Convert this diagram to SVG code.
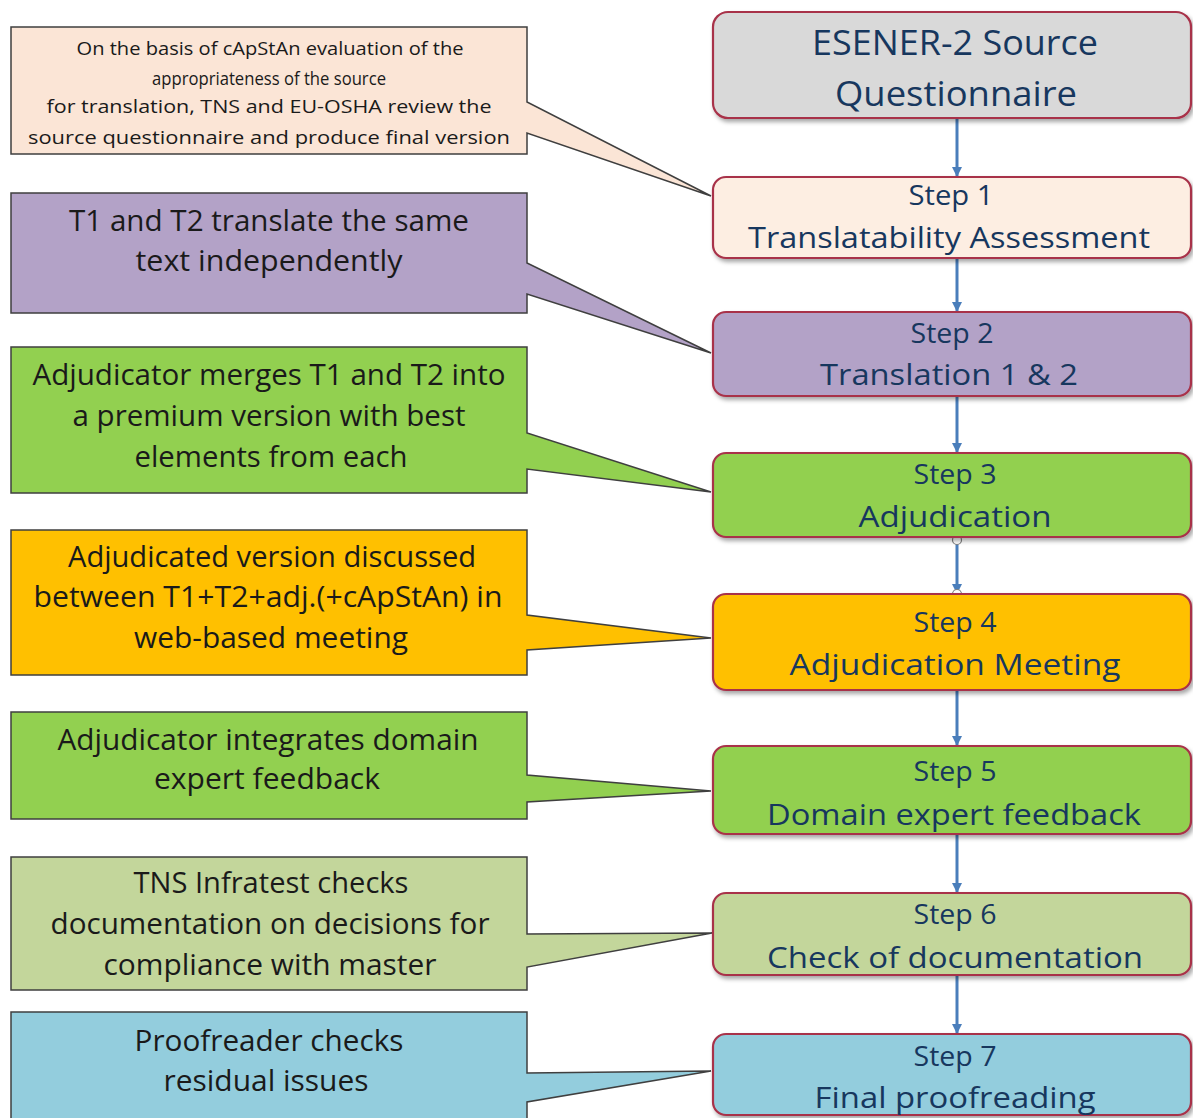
<svg xmlns="http://www.w3.org/2000/svg" width="1193" height="1118" viewBox="0 0 1193 1118">
<style>
.co{stroke:#3f3f3f;stroke-width:1.5}
.ct{font-family:"Open Sans","Liberation Sans",sans-serif;fill:#1a1a1a;text-anchor:middle}
.st{stroke:#a8334a;stroke-width:2.2}
.sx{font-family:"Open Sans","Liberation Sans",sans-serif;fill:#17375e;text-anchor:middle}
.cn{stroke:#4a7ebb;stroke-width:3;fill:none}
.dot{fill:#ffffff;stroke:#7f7f7f;stroke-width:1.2}
</style>
<defs>
<marker id="ah" viewBox="0 0 10 10" refX="9" refY="5" markerWidth="3.4" markerHeight="3.4" orient="auto" markerUnits="strokeWidth">
<path d="M0,0 L10,5 L0,10 z" fill="#4a7ebb"/>
</marker>
<filter id="sh" x="-5%" y="-10%" width="115%" height="130%">
<feDropShadow dx="2" dy="3" stdDeviation="2" flood-color="#000" flood-opacity="0.35"/>
</filter>
</defs>
<rect width="1193" height="1118" fill="#ffffff"/>

<g id="callout1">
<path class="co" fill="#fbe5d6" d="M11,27 H527 V102 L711,196 L527,133 V154 H11 Z"/>
<text class="ct" font-size="19" x="270" y="55" textLength="387" lengthAdjust="spacingAndGlyphs">On the basis of cApStAn evaluation of the</text>
<text class="ct" font-size="19" x="269" y="85" textLength="234" lengthAdjust="spacingAndGlyphs">appropriateness of the source</text>
<text class="ct" font-size="19" x="269" y="113" textLength="445" lengthAdjust="spacingAndGlyphs">for translation, TNS and EU-OSHA review the</text>
<text class="ct" font-size="19" x="269" y="144" textLength="482" lengthAdjust="spacingAndGlyphs">source questionnaire and produce final version</text>
</g>

<g id="callout2">
<path class="co" fill="#b3a2c7" d="M11,193 H527 V263 L711,353 L527,294 V313 H11 Z"/>
<text class="ct" font-size="29" x="269" y="231" textLength="400" lengthAdjust="spacingAndGlyphs">T1 and T2 translate the same</text>
<text class="ct" font-size="29" x="269" y="271" textLength="267" lengthAdjust="spacingAndGlyphs">text independently</text>
</g>

<g id="callout3">
<path class="co" fill="#92d050" d="M11,347 H527 V433 L711,492 L527,469 V493 H11 Z"/>
<text class="ct" font-size="29" x="269" y="385" textLength="473" lengthAdjust="spacingAndGlyphs">Adjudicator merges T1 and T2 into</text>
<text class="ct" font-size="29" x="269" y="426" textLength="393" lengthAdjust="spacingAndGlyphs">a premium version with best</text>
<text class="ct" font-size="29" x="271" y="467" textLength="273" lengthAdjust="spacingAndGlyphs">elements from each</text>
</g>

<g id="callout4">
<path class="co" fill="#ffc000" d="M11,530 H527 V615 L711,638 L527,650 V675 H11 Z"/>
<text class="ct" font-size="29" x="272" y="567" textLength="408" lengthAdjust="spacingAndGlyphs">Adjudicated version discussed</text>
<text class="ct" font-size="29" x="268" y="607" textLength="469" lengthAdjust="spacingAndGlyphs">between T1+T2+adj.(+cApStAn) in</text>
<text class="ct" font-size="29" x="271" y="648" textLength="274" lengthAdjust="spacingAndGlyphs">web-based meeting</text>
</g>

<g id="callout5">
<path class="co" fill="#92d050" d="M11,712 H527 V775 L711,791 L527,802 V819 H11 Z"/>
<text class="ct" font-size="29" x="268" y="750" textLength="421" lengthAdjust="spacingAndGlyphs">Adjudicator integrates domain</text>
<text class="ct" font-size="29" x="267" y="789" textLength="226" lengthAdjust="spacingAndGlyphs">expert feedback</text>
</g>

<g id="callout6">
<path class="co" fill="#c3d69b" d="M11,857 H527 V934 L712,933 L527,967 V990 H11 Z"/>
<text class="ct" font-size="29" x="271" y="893" textLength="275" lengthAdjust="spacingAndGlyphs">TNS Infratest checks</text>
<text class="ct" font-size="29" x="270" y="934" textLength="439" lengthAdjust="spacingAndGlyphs">documentation on decisions for</text>
<text class="ct" font-size="29" x="270" y="975" textLength="333" lengthAdjust="spacingAndGlyphs">compliance with master</text>
</g>

<g id="callout7">
<path class="co" fill="#93cddd" d="M11,1012 H527 V1073 L711,1071 L527,1102 V1122 H11 Z"/>
<text class="ct" font-size="29" x="269" y="1051" textLength="269" lengthAdjust="spacingAndGlyphs">Proofreader checks</text>
<text class="ct" font-size="29" x="266" y="1091" textLength="205" lengthAdjust="spacingAndGlyphs">residual issues</text>
</g>

<g id="connectors">
<line class="cn" x1="957" y1="119" x2="957" y2="176" marker-end="url(#ah)"/>
<line class="cn" x1="957" y1="258" x2="957" y2="311" marker-end="url(#ah)"/>
<line class="cn" x1="957" y1="397" x2="957" y2="452" marker-end="url(#ah)"/>
<line class="cn" x1="957" y1="540" x2="957" y2="593" marker-end="url(#ah)"/>
<circle class="dot" cx="957" cy="540" r="4.5"/>
<circle class="dot" cx="957" cy="594" r="4.5"/>
<line class="cn" x1="957" y1="691" x2="957" y2="745" marker-end="url(#ah)"/>
<line class="cn" x1="957" y1="835" x2="957" y2="892" marker-end="url(#ah)"/>
<line class="cn" x1="957" y1="976" x2="957" y2="1033" marker-end="url(#ah)"/>
</g>

<g id="source">
<rect class="st" filter="url(#sh)" x="713" y="12" width="478" height="106" rx="15" fill="#d9d9d9"/>
<text class="sx" font-size="35" x="955" y="55" textLength="286" lengthAdjust="spacingAndGlyphs">ESENER-2 Source</text>
<text class="sx" font-size="35" x="956" y="106" textLength="242" lengthAdjust="spacingAndGlyphs">Questionnaire</text>
</g>

<g id="step1">
<rect class="st" filter="url(#sh)" x="713" y="177" width="478" height="81" rx="13" fill="#fdeee2"/>
<text class="sx" font-size="27" x="951" y="205" textLength="85" lengthAdjust="spacingAndGlyphs">Step 1</text>
<text class="sx" font-size="29" x="949" y="248" textLength="402" lengthAdjust="spacingAndGlyphs">Translatability Assessment</text>
</g>

<g id="step2">
<rect class="st" filter="url(#sh)" x="713" y="312" width="478" height="84" rx="13" fill="#b3a2c7"/>
<text class="sx" font-size="27" x="952" y="343" textLength="83" lengthAdjust="spacingAndGlyphs">Step 2</text>
<text class="sx" font-size="29" x="949" y="385" textLength="258" lengthAdjust="spacingAndGlyphs">Translation 1 &amp; 2</text>
</g>

<g id="step3">
<rect class="st" filter="url(#sh)" x="713" y="453" width="478" height="84" rx="13" fill="#92d050"/>
<text class="sx" font-size="27" x="955" y="484" textLength="83" lengthAdjust="spacingAndGlyphs">Step 3</text>
<text class="sx" font-size="29" x="955" y="527" textLength="193" lengthAdjust="spacingAndGlyphs">Adjudication</text>
</g>

<g id="step4">
<rect class="st" filter="url(#sh)" x="713" y="594" width="478" height="96" rx="13" fill="#ffc000"/>
<text class="sx" font-size="27" x="955" y="632" textLength="83" lengthAdjust="spacingAndGlyphs">Step 4</text>
<text class="sx" font-size="29" x="955" y="675" textLength="331" lengthAdjust="spacingAndGlyphs">Adjudication Meeting</text>
</g>

<g id="step5">
<rect class="st" filter="url(#sh)" x="713" y="746" width="478" height="88" rx="13" fill="#92d050"/>
<text class="sx" font-size="27" x="955" y="781" textLength="83" lengthAdjust="spacingAndGlyphs">Step 5</text>
<text class="sx" font-size="29" x="954" y="825" textLength="374" lengthAdjust="spacingAndGlyphs">Domain expert feedback</text>
</g>

<g id="step6">
<rect class="st" filter="url(#sh)" x="713" y="893" width="478" height="82" rx="13" fill="#c3d69b"/>
<text class="sx" font-size="27" x="955" y="924" textLength="83" lengthAdjust="spacingAndGlyphs">Step 6</text>
<text class="sx" font-size="29" x="955" y="968" textLength="376" lengthAdjust="spacingAndGlyphs">Check of documentation</text>
</g>

<g id="step7">
<rect class="st" filter="url(#sh)" x="713" y="1034" width="478" height="81" rx="13" fill="#93cddd"/>
<text class="sx" font-size="27" x="955" y="1066" textLength="83" lengthAdjust="spacingAndGlyphs">Step 7</text>
<text class="sx" font-size="29" x="955" y="1108" textLength="281" lengthAdjust="spacingAndGlyphs">Final proofreading</text>
</g>
</svg>
